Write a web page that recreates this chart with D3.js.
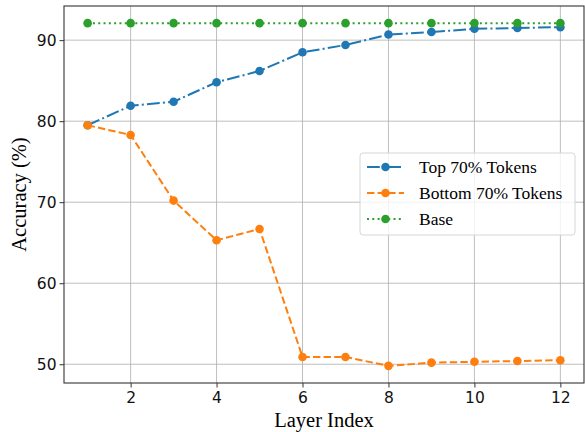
<!DOCTYPE html>
<html>
<head>
<meta charset="utf-8">
<script src="https://cdn.jsdelivr.net/npm/d3@7"></script>
<style>
body{margin:0;background:#fff;}
svg{display:block;}
.serif{font-family:"Liberation Serif","Times New Roman",serif;fill:#000;}
.tick text{font-family:"DejaVu Sans",sans-serif;}
</style>
</head>
<body>
<script>
// data
var layers = [1,2,3,4,5,6,7,8,9,10,11,12];
var topTokens = [79.5,81.9,82.4,84.8,86.2,88.5,89.4,90.7,91.0,91.4,91.5,91.6];
var bottomTokens = [79.5,78.3,70.2,65.3,66.7,50.9,50.9,49.8,50.2,50.3,50.4,50.5];
var base = [92.1,92.1,92.1,92.1,92.1,92.1,92.1,92.1,92.1,92.1,92.1,92.1];
var xTicks = [2,4,6,8,10,12];
var yTicks = [50,60,70,80,90];
var seriesNames = ["Top 70% Tokens","Bottom 70% Tokens","Base"];

var width=585,height=432;
var margin={top:6,right:1,bottom:49,left:64};
var w=width-margin.left-margin.right,h=height-margin.top-margin.bottom;

var series=[
	{name:seriesNames[0],values:topTokens,color:"#1f77b4",dash:"12.8,3.2,2,3.2"},
	{name:seriesNames[1],values:bottomTokens,color:"#ff7f0e",dash:"7.4,3.2"},
	{name:seriesNames[2],values:base,color:"#2ca02c",dash:"2,3.3"}
];

// matplotlib style 5% padding
var allY=d3.merge(series.map(function(s){return s.values;}));
var yMin=d3.min(allY),yMax=d3.max(allY),yPad=(yMax-yMin)*0.05;
var xPad=(d3.max(layers)-d3.min(layers))*0.05;

var x=d3.scaleLinear().domain([d3.min(layers)-xPad,d3.max(layers)+xPad]).range([0,w]);
var y=d3.scaleLinear().domain([yMin-yPad,yMax+yPad]).range([h,0]);

var svg=d3.select("body").append("svg")
		.attr("width",width)
		.attr("height",height);
var g=svg.append("g")
		.attr("transform","translate("+margin.left+","+margin.top+")");

// grid
g.append("g").selectAll("line").data(xTicks).enter().append("line")
	.attr("x1",function(d){return x(d);}).attr("x2",function(d){return x(d);})
	.attr("y1",0).attr("y2",h)
	.style("stroke","#b0b0b0").style("stroke-width",1).style("opacity",0.8);
g.append("g").selectAll("line").data(yTicks).enter().append("line")
	.attr("y1",function(d){return y(d);}).attr("y2",function(d){return y(d);})
	.attr("x1",0).attr("x2",w)
	.style("stroke","#b0b0b0").style("stroke-width",1).style("opacity",0.8);

// axes
var xAxis=g.append("g").attr("transform","translate(0,"+h+")")
	.call(d3.axisBottom(x).tickValues(xTicks).tickSize(4.5).tickPadding(4));
var yAxis=g.append("g")
	.call(d3.axisLeft(y).tickValues(yTicks).tickSize(4.5).tickPadding(3));
[xAxis,yAxis].forEach(function(a){
	a.select(".domain").remove();
	a.attr("font-family",null).attr("font-size",null);
	a.selectAll("line").style("stroke","#333").style("stroke-width",1);
	a.selectAll("text").style("font-size","15.5px").style("fill","#111");
});

// frame
g.append("rect").attr("x",0).attr("y",0).attr("width",w).attr("height",h)
	.style("fill","none").style("stroke","#333").style("stroke-width",1.1);

// lines
var line=d3.line()
	.x(function(d,i){return x(layers[i]);})
	.y(function(d){return y(d);});

var sg=g.selectAll(".series").data(series).enter().append("g").attr("class","series");
sg.append("path")
	.attr("d",function(s){return line(s.values);})
	.style("fill","none")
	.style("stroke",function(s){return s.color;})
	.style("stroke-width",2)
	.style("stroke-dasharray",function(s){return s.dash;});
sg.selectAll("circle").data(function(s){return s.values.map(function(v,i){return {v:v,i:i,c:s.color};});})
	.enter().append("circle")
	.attr("cx",function(d){return x(layers[d.i]);})
	.attr("cy",function(d){return y(d.v);})
	.attr("r",4.3)
	.style("fill",function(d){return d.c;});

// axis labels
svg.append("text").attr("class","serif")
	.attr("x",margin.left+w/2).attr("y",427)
	.attr("text-anchor","middle")
	.style("font-size","20.5px")
	.text("Layer Index");
svg.append("text").attr("class","serif")
	.attr("transform","translate(26,"+(margin.top+h/2)+") rotate(-90)")
	.attr("text-anchor","middle")
	.style("font-size","20.5px")
	.text("Accuracy (%)");

// legend
var legend=svg.append("g").attr("transform","translate(360,153)");
legend.append("rect")
	.attr("width",215).attr("height",82).attr("rx",3)
	.style("fill","rgba(255,255,255,0.8)").style("stroke","#d6d6d6").style("stroke-width",1);
var items=legend.selectAll(".item").data(series).enter().append("g")
	.attr("transform",function(d,i){return "translate(0,"+(14+i*26)+")";});
items.append("line")
	.attr("x1",7).attr("x2",44).attr("y1",0).attr("y2",0)
	.style("stroke",function(s){return s.color;})
	.style("stroke-width",2)
	.style("stroke-dasharray",function(s){return s.dash;});
items.append("circle").attr("cx",25.5).attr("cy",0).attr("r",4.3)
	.style("fill",function(s){return s.color;});
items.append("text").attr("class","serif")
	.attr("x",59).attr("y",6)
	.style("font-size","17.5px")
	.text(function(s){return s.name;});
</script>
</body>
</html>
